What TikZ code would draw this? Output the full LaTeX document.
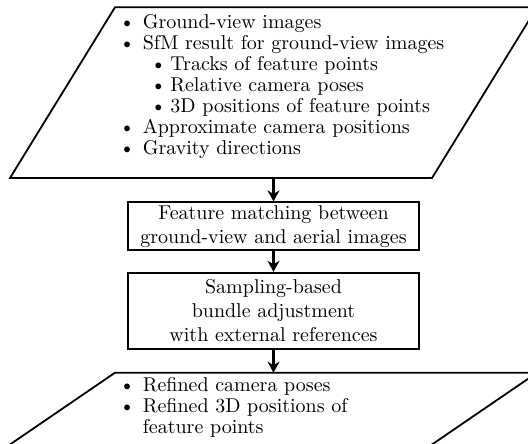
\documentclass[tikz,border=0pt]{standalone}
\usepackage{tikz}
\usetikzlibrary{arrows.meta}
\tikzset{
  procbox/.style={draw, line width=0.9pt, align=center, minimum width=145.4pt, inner sep=0pt},
  flow/.style={line width=1.4pt, -{Stealth[length=5.5pt,width=6pt]}},
  datalist/.style={anchor=north west, align=left, inner sep=0pt, font=\fontsize{10}{10.5}\selectfont},
}
\newcommand{\bulA}{\makebox[11.7pt][l]{\textbullet}}
\newcommand{\bulB}{\hspace*{15.65pt}\makebox[9.85pt][l]{\textbullet}}

\begin{document}
\begin{tikzpicture}[x=0.5pt,y=-0.5pt]
        \useasboundingbox (0,0) rectangle (528,443);
        % input data
        \draw[line width=0.9pt] (115,7.3) -- (537,7.3) -- (432,178) -- (10,178) -- cycle;
        \node[datalist] (inlist) at (119,14) {\bulA Ground-view images\\
          \bulA SfM result for ground-view images\\
          \bulB Tracks of feature points\\
          \bulB Relative camera poses\\
          \bulB 3D positions of feature points\\
          \bulA Approximate camera positions\\
          \bulA Gravity directions};
        \coordinate (inbot) at (273.5,178);
        % processing steps
        \node[procbox, minimum height=23.9pt] (match) at (273.5,226.2) {Feature matching between\\ground-view and aerial images};
        \node[procbox, minimum height=38.3pt] (sba) at (273.5,311) {Sampling-based\\bundle adjustment\\with external references};
        % output data (cut off at the bottom)
        \draw[line width=0.9pt] (115,372.7) -- (537,372.7) -- (428.3,447) -- (6.3,447) -- cycle;
        \node[datalist] (outlist) at (119,377) {\bulA Refined camera poses\\
          \bulA Refined 3D positions of\\
          \hspace*{11.7pt}feature points};
        \coordinate (outtop) at (273.5,372.7);
        % arrows
        \draw[flow] (inbot) -- (match);
        \draw[flow] (match) -- (sba);
        \draw[flow] (sba) -- (outtop);
\end{tikzpicture}
\end{document}
